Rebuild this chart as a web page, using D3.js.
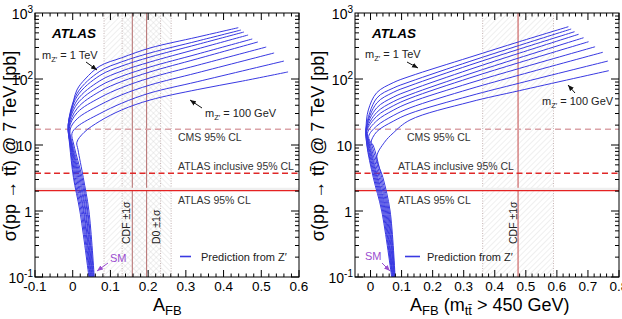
<!DOCTYPE html>
<html>
<head>
<meta charset="utf-8">
<script src="https://cdn.jsdelivr.net/npm/d3@7"></script>
<style>
body { margin: 0; background: #fff; }
svg text { font-family: "Liberation Sans", Arial, Helvetica, sans-serif; }
</style>
</head>
<body>
<svg id="chart" width="622" height="319"></svg>
<script>

// Z' masses, 100 GeV (first) to 1 TeV (last)
var zMasses = ['100 GeV', '200 GeV', '300 GeV', '400 GeV', '500 GeV',
	'600 GeV', '700 GeV', '800 GeV', '900 GeV', '1 TeV'];

// [A_FB, sigma(pb)] along each curve, inclusive A_FB (left)
var inclusiveCurves = [
	[[0.057,0.1],[0.043,1],[0.028,3.2],[0.014,8.5],[0.011,11],[0.03,15.5],[0.072,23],[0.13,34],[0.205,48],[0.33,69],[0.45,93],[0.571,128]],
	[[0.0555,0.1],[0.040,1],[0.025,3.2],[0.003,10],[-0.002,15],[0.012,19],[0.072,29.9],[0.13,43],[0.205,61.4],[0.33,90.9],[0.560,187]],
	[[0.054,0.1],[0.038,1],[0.022,3.2],[0.0,10],[-0.007,17],[0.012,25],[0.072,40.4],[0.13,57.6],[0.205,81.1],[0.33,124],[0.534,248]],
	[[0.0525,0.1],[0.035,1],[0.019,3.2],[-0.002,10],[-0.009,18],[0.012,31],[0.072,52.1],[0.13,74],[0.205,104],[0.33,161],[0.513,305]],
	[[0.051,0.1],[0.033,1],[0.016,3.2],[-0.003,10],[-0.010,18.5],[0.012,36],[0.072,64.9],[0.13,91.6],[0.205,128],[0.33,202],[0.491,364]],
	[[0.0495,0.1],[0.030,1],[0.013,3.2],[-0.004,10],[-0.011,19],[0.012,42],[0.072,78.3],[0.13,110],[0.205,152],[0.33,238],[0.476,404]],
	[[0.048,0.1],[0.028,1],[0.010,3.2],[-0.005,10],[-0.011,19.5],[0.012,48],[0.072,93.9],[0.13,132],[0.205,181],[0.33,285],[0.465,464]],
	[[0.0465,0.1],[0.025,1],[0.007,3.2],[-0.006,10],[-0.012,20],[0.012,55],[0.072,113],[0.13,157],[0.205,215],[0.33,333],[0.454,515]],
	[[0.045,0.1],[0.022,1],[0.004,3.2],[-0.007,10],[-0.012,20],[0.012,61],[0.072,131],[0.13,182],[0.205,248],[0.33,375],[0.446,552]],
	[[0.043,0.1],[0.019,1],[0.002,3.2],[-0.008,10],[-0.012,20],[-0.003,34],[0.011,68],[0.033,100],[0.072,157],[0.13,210],[0.205,295],[0.33,431],[0.439,599]]
];

// [A_FB(m_tt > 450 GeV), sigma(pb)] along each curve (right)
var highMassCurves = [
	[[0.079,0.1],[0.063,1],[0.040,3.2],[0.02,6.6],[0.045,11],[0.073,15.2],[0.127,23.9],[0.32,44.8],[0.48,66.7],[0.767,133.6]],
	[[0.078,0.1],[0.060,1],[0.036,3.2],[0.008,10],[0.002,11],[0.02,15.9],[0.073,22.9],[0.127,30],[0.32,55.5],[0.48,86.7],[0.764,187]],
	[[0.077,0.1],[0.057,1],[0.032,3.2],[0.004,10],[-0.006,13.5],[0.02,19.4],[0.073,27.9],[0.127,36.5],[0.32,70.7],[0.48,115],[0.748,254]],
	[[0.076,0.1],[0.054,1],[0.028,3.2],[0.0,10],[-0.010,15],[0.02,23.3],[0.073,33.6],[0.127,44],[0.32,86.8],[0.48,145],[0.723,308]],
	[[0.075,0.1],[0.051,1],[0.024,3.2],[-0.003,10],[-0.012,16],[0.02,27.2],[0.073,39.2],[0.127,51],[0.32,104],[0.48,178],[0.702,367]],
	[[0.073,0.1],[0.048,1],[0.021,3.2],[-0.005,10],[-0.013,16.5],[0.02,31.2],[0.073,45.3],[0.127,58],[0.32,120],[0.48,210],[0.686,422]],
	[[0.072,0.1],[0.045,1],[0.018,3.2],[-0.007,10],[-0.014,17],[0.02,36.5],[0.073,53],[0.127,67.5],[0.32,140],[0.48,247],[0.670,476]],
	[[0.071,0.1],[0.042,1],[0.015,3.2],[-0.009,10],[-0.014,17.5],[0.02,43.2],[0.073,62.7],[0.127,79],[0.32,163],[0.48,285],[0.657,521]],
	[[0.070,0.1],[0.039,1],[0.012,3.2],[-0.011,10],[-0.0145,18],[0.02,51.3],[0.073,72.8],[0.127,91],[0.32,185],[0.48,324],[0.646,572]],
	[[0.068,0.1],[0.036,1],[0.009,3.2],[-0.012,10],[-0.0145,18],[-0.007,34],[0.02,62],[0.073,88],[0.127,110],[0.32,214],[0.48,369],[0.637,620]]
];

// cross-section limits (pb)
var limitNames = ['CMS 95% CL', 'ATLAS inclusive 95% CL', 'ATLAS 95% CL'];
var limitValues = [17.3, 3.73, 2.03];

// Tevatron measurements: name, central value, 1 sigma
var leftTevNames = ['CDF', 'D0'];
var leftTevCentral = [0.158, 0.196];
var leftTevError = [0.075, 0.065];
var rightTevNames = ['CDF'];
var rightTevCentral = [0.475];
var rightTevError = [0.114];

var leftXTicks = [-0.1, 0, 0.1, 0.2, 0.3, 0.4, 0.5, 0.6];
var rightXTicks = [0, 0.1, 0.2, 0.3, 0.4, 0.5, 0.6, 0.7, 0.8];
var leftXLabels = ['-0.1', '0', '0.1', '0.2', '0.3', '0.4', '0.5', '0.6'];
var rightXLabels = ['0', '0.1', '0.2', '0.3', '0.4', '0.5', '0.6', '0.7', '0.8'];
var yTicks = [0.1, 1, 10, 100, 1000];
var yTickBase = ['10', '1', '10', '10', '10'];
var yTickExp = ['-1', '', '', '2', '3'];

var Chart = {

	svg: null,

	init: function() {
		Chart.svg = d3.select('#chart');
		Chart.defs();

		Chart.panel({
			id: 'l', left: 35, right: 299, top: 13, bottom: 277,
			xDomain: [-0.1, 0.6], xTicks: leftXTicks, xLabels: leftXLabels, minorFrom: -0.1,
			curves: inclusiveCurves,
			tevNames: leftTevNames, tevCentral: leftTevCentral, tevError: leftTevError,
			tevLabelX: [130, 160], centerColor: '#b46c6c',
			atlasX: 52, tevX: 42, tevY: 59, tevArrow: [86, 62, 97, 70],
			lowLabel: [205, 117], lowArrow: [202, 108, 190, 100],
			limitLabelX: [178, 178, 178],
			sm: [110, 262], smArrow: [108, 263, 97, 271],
			legend: [180, 191, 201],
			yTitleX: 16, xTitleX: 153, xTitleExtra: false
		});

		Chart.panel({
			id: 'r', left: 355, right: 619, top: 13, bottom: 277,
			xDomain: [-0.05, 0.8], xTicks: rightXTicks, xLabels: rightXLabels, minorFrom: -0.04,
			curves: highMassCurves,
			tevNames: rightTevNames, tevCentral: rightTevCentral, tevError: rightTevError,
			tevLabelX: [517], centerColor: '#c44848',
			atlasX: 372, tevX: 365, tevY: 58, tevArrow: [407, 62, 418, 68],
			lowLabel: [542, 105], lowArrow: [575, 93, 568, 85],
			limitLabelX: [407, 398, 398],
			sm: [365, 260], smArrow: [382, 263, 390, 271],
			legend: [405, 420, 427],
			yTitleX: 324, xTitleX: 410, xTitleExtra: true
		});
	},

	defs: function() {
		var defs = Chart.svg.append('defs');
		[['hatchA', 45], ['hatchB', -45]].forEach(function(h) {
			defs.append('pattern')
				.attr('id', h[0])
				.attr('patternUnits', 'userSpaceOnUse')
				.attr('width', 4).attr('height', 4)
				.attr('patternTransform', 'rotate(' + h[1] + ')')
				.append('line')
				.attr('x1', 0).attr('y1', 0).attr('x2', 0).attr('y2', 4)
				.attr('stroke', '#d0d0d0').attr('stroke-width', 0.7);
		});
		[['arrowBlack', '#111'], ['arrowPurple', '#9a4dd0']].forEach(function(m) {
			defs.append('marker')
				.attr('id', m[0])
				.attr('markerUnits', 'userSpaceOnUse')
				.attr('markerWidth', 6).attr('markerHeight', 6)
				.attr('refX', 6).attr('refY', 3)
				.attr('orient', 'auto')
				.append('path')
				.attr('d', 'M0,0.5 L6,3 L0,5.5 z')
				.attr('fill', m[1]);
		});
	},

	panel: function(p) {
		var svg = Chart.svg;
		var x = d3.scaleLinear().domain(p.xDomain).range([p.left, p.right]);
		var y = d3.scaleLog().domain([0.1, 1000]).range([p.bottom, p.top]);

		svg.select('defs').append('clipPath')
			.attr('id', 'clip-' + p.id)
			.append('rect')
			.attr('x', p.left).attr('y', p.top)
			.attr('width', p.right - p.left).attr('height', p.bottom - p.top);

		var g = svg.append('g').attr('clip-path', 'url(#clip-' + p.id + ')');

		// tevatron bands
		p.tevCentral.forEach(function(c, i) {
			var e = p.tevError[i];
			g.append('rect')
				.attr('x', x(c - e)).attr('y', p.top)
				.attr('width', x(c + e) - x(c - e)).attr('height', p.bottom - p.top)
				.attr('fill', i === 0 ? 'url(#hatchA)' : 'url(#hatchB)');
			[c - e, c + e].forEach(function(v) {
				g.append('line')
					.attr('x1', x(v)).attr('x2', x(v))
					.attr('y1', p.top).attr('y2', p.bottom)
					.attr('stroke', '#b9a2a2').attr('stroke-width', 0.8)
					.attr('stroke-dasharray', '1,1.5');
			});
		});
		p.tevCentral.forEach(function(c) {
			g.append('line')
				.attr('x1', x(c)).attr('x2', x(c))
				.attr('y1', p.top).attr('y2', p.bottom)
				.attr('stroke', p.centerColor).attr('stroke-width', 1);
		});

		// limits
		g.append('rect')
			.attr('x', p.left).attr('width', p.right - p.left)
			.attr('y', y(2.25)).attr('height', y(limitValues[2]) - y(2.25))
			.attr('fill', '#efefef');
		var limitStyle = [
			{stroke: '#dba3a8', width: 1.4, dash: '6,4'},
			{stroke: '#e02828', width: 1.6, dash: '6,3.5'},
			{stroke: '#e52222', width: 1.2, dash: null}
		];
		limitValues.forEach(function(v, i) {
			g.append('line')
				.attr('x1', p.left).attr('x2', p.right)
				.attr('y1', y(v)).attr('y2', y(v))
				.attr('stroke', limitStyle[i].stroke)
				.attr('stroke-width', limitStyle[i].width)
				.attr('stroke-dasharray', limitStyle[i].dash);
		});

		// Z' curves
		var line = d3.line()
			.x(function(d) { return x(d[0]); })
			.y(function(d) { return y(d[1]); })
			.curve(d3.curveCatmullRom.alpha(0.5));
		g.selectAll('path.zp')
			.data(p.curves)
			.enter()
			.append('path')
			.attr('class', 'zp')
			.attr('d', line)
			.attr('fill', 'none')
			.attr('stroke', '#3939e2')
			.attr('stroke-width', 1);

		// frame
		svg.append('rect')
			.attr('x', p.left).attr('y', p.top)
			.attr('width', p.right - p.left).attr('height', p.bottom - p.top)
			.attr('fill', 'none').attr('stroke', '#000').attr('stroke-width', 1);

		Chart.ticks(p, x, y);
		Chart.labels(p, x, y);
	},

	ticks: function(p, x, y) {
		var t = Chart.svg.append('g').attr('stroke', '#000').attr('stroke-width', 1);
		var minor = d3.range(p.minorFrom, p.xDomain[1] + 0.001, 0.02);
		minor.forEach(function(v) {
			var major = p.xTicks.some(function(m) { return Math.abs(m - v) < 1e-6; }) ||
				(p.id === 'l' && Math.abs(v + 0.1) < 1e-6);
			var len = major ? 7 : 3.5;
			t.append('line').attr('x1', x(v)).attr('x2', x(v))
				.attr('y1', p.bottom).attr('y2', p.bottom - len);
			t.append('line').attr('x1', x(v)).attr('x2', x(v))
				.attr('y1', p.top).attr('y2', p.top + len);
		});
		for (var d = -1; d < 3; d++) {
			for (var k = 1; k < 10; k++) {
				var v = k * Math.pow(10, d);
				var len = k === 1 ? 8 : 4;
				t.append('line').attr('y1', y(v)).attr('y2', y(v))
					.attr('x1', p.left).attr('x2', p.left + len);
				t.append('line').attr('y1', y(v)).attr('y2', y(v))
					.attr('x1', p.right).attr('x2', p.right - len);
			}
		}
	},

	labels: function(p, x, y) {
		var svg = Chart.svg;

		// x tick labels
		svg.selectAll(null)
			.data(p.xTicks)
			.enter()
			.append('text')
			.attr('x', function(d) { return x(d); })
			.attr('y', 290.5)
			.attr('text-anchor', 'middle')
			.attr('font-size', 13.5)
			.text(function(d, i) { return p.xLabels[i]; });

		// y tick labels
		yTicks.forEach(function(v, i) {
			var txt = svg.append('text')
				.attr('x', p.left - (yTickExp[i] ? 2 : 3))
				.attr('y', y(v) + 5.5)
				.attr('text-anchor', 'end')
				.attr('font-size', 14);
			txt.append('tspan').text(yTickBase[i]);
			if (yTickExp[i]) {
				txt.append('tspan').attr('dy', -6).attr('font-size', 10).text(yTickExp[i]);
			}
		});

		// axis titles
		svg.append('text')
			.attr('transform', 'translate(' + p.yTitleX + ',146) rotate(-90)')
			.attr('text-anchor', 'middle')
			.attr('font-size', 18)
			.text('\u03c3(pp \u2192 tt\u0304) @ 7 TeV [pb]');

		var xt = svg.append('text')
			.attr('x', p.xTitleX).attr('y', 310.5)
			.attr('font-size', 18);
		xt.append('tspan').text('A');
		xt.append('tspan').attr('dy', 4).attr('font-size', 13).text('FB');
		if (p.xTitleExtra) {
			xt.append('tspan').attr('dy', -4).text(' (m');
			xt.append('tspan').attr('dy', 4).attr('font-size', 13).text('tt\u0304');
			xt.append('tspan').attr('dy', -4).text(' > 450 GeV)');
		}

		// ATLAS
		svg.append('text')
			.attr('x', p.atlasX).attr('y', 38)
			.attr('font-size', 13.5)
			.attr('font-weight', 'bold')
			.attr('font-style', 'italic')
			.text('ATLAS');

		// mass labels
		Chart.massLabel(p.tevX, p.tevY, zMasses[zMasses.length - 1]);
		Chart.arrow(p.tevArrow, 'arrowBlack', '#111');
		Chart.massLabel(p.lowLabel[0], p.lowLabel[1], zMasses[0]);
		Chart.arrow(p.lowArrow, 'arrowBlack', '#111');

		// limit labels
		var ly = [141, 170, 204];
		limitNames.forEach(function(n, i) {
			svg.append('text')
				.attr('x', p.limitLabelX[i]).attr('y', ly[i])
				.attr('font-size', 10.5)
				.attr('fill', '#333')
				.text(n);
		});

		// tevatron labels
		p.tevNames.forEach(function(n, i) {
			svg.append('text')
				.attr('transform', 'translate(' + p.tevLabelX[i] + ',' + 244 + ') rotate(-90)')
				.attr('font-size', 10.5)
				.attr('fill', '#222')
				.text(n + ' \u00b11\u03c3');
		});

		// SM
		svg.append('text')
			.attr('x', p.sm[0]).attr('y', p.sm[1])
			.attr('font-size', 11)
			.attr('fill', '#9a4dd0')
			.text('SM');
		Chart.arrow(p.smArrow, 'arrowPurple', '#9a4dd0');

		// legend
		svg.append('line')
			.attr('x1', p.legend[0]).attr('x2', p.legend[1])
			.attr('y1', 256.5).attr('y2', 256.5)
			.attr('stroke', '#3939e2').attr('stroke-width', 1.6);
		svg.append('text')
			.attr('x', p.legend[2]).attr('y', 261)
			.attr('font-size', 11)
			.attr('fill', '#222')
			.text('Prediction from Z\u2032');
	},

	massLabel: function(lx, ly, mass) {
		var t = Chart.svg.append('text')
			.attr('x', lx).attr('y', ly)
			.attr('font-size', 11)
			.attr('fill', '#222');
		t.append('tspan').text('m');
		t.append('tspan').attr('dy', 3).attr('font-size', 7.5).text('Z\u2032');
		t.append('tspan').attr('dy', -3).text(' = ' + mass);
	},

	arrow: function(a, marker, color) {
		Chart.svg.append('line')
			.attr('x1', a[0]).attr('y1', a[1])
			.attr('x2', a[2]).attr('y2', a[3])
			.attr('stroke', color).attr('stroke-width', 1)
			.attr('marker-end', 'url(#' + marker + ')');
	}
};

Chart.init();
</script>
</body>
</html>
